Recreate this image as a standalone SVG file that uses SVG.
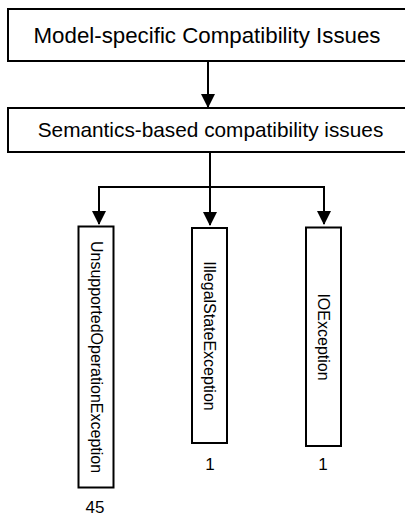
<svg xmlns="http://www.w3.org/2000/svg" width="405" height="521" viewBox="0 0 405 521">
  <style>
    .box { fill: #ffffff; stroke: #000000; stroke-width: 2; }
    .conn { fill: none; stroke: #000000; stroke-width: 2; }
    text { font-family: "Liberation Sans", Arial, Helvetica, sans-serif; fill: #000000; }
    .vt { font-size: 16px; text-anchor: middle; dominant-baseline: central; }
    .num { font-size: 17px; text-anchor: middle; }
  </style>
  <defs>
    <marker id="arrow" markerUnits="userSpaceOnUse" markerWidth="14" markerHeight="16" refX="13" refY="7" orient="auto">
      <path d="M0,0 L14,7 L0,14 Z" fill="#000000"/>
    </marker>
  </defs>
  <rect width="405" height="521" fill="#ffffff"/>

  <g id="connectors">
    <line class="conn" x1="208" y1="61" x2="208" y2="107" marker-end="url(#arrow)"/>
    <polyline class="conn" points="210,152 210,187"/>
    <polyline class="conn" points="99,187 324,187"/>
    <line class="conn" x1="99" y1="186" x2="99" y2="224" marker-end="url(#arrow)"/>
    <line class="conn" x1="210" y1="186" x2="210" y2="225" marker-end="url(#arrow)"/>
    <line class="conn" x1="324" y1="186" x2="324" y2="224" marker-end="url(#arrow)"/>
  </g>

  <g id="model-specific">
    <rect class="box" x="8" y="9" width="400" height="52"/>
    <text x="207" y="43" font-size="22.3" text-anchor="middle">Model-specific Compatibility Issues</text>
  </g>

  <g id="semantics-based">
    <rect class="box" x="8" y="108" width="400" height="44"/>
    <text x="210.5" y="136.5" font-size="20.8" text-anchor="middle">Semantics-based compatibility issues</text>
  </g>

  <g id="unsupported">
    <rect class="box" x="78.5" y="226.5" width="35" height="261"/>
    <text class="vt" transform="translate(96,357) rotate(90)">UnsupportedOperationException</text>
    <text class="num" x="95" y="513">45</text>
  </g>

  <g id="illegalstate">
    <rect class="box" x="192" y="228" width="35" height="215"/>
    <text class="vt" transform="translate(209.5,336) rotate(90)">IllegalStateException</text>
    <text class="num" x="210" y="470">1</text>
  </g>

  <g id="ioexception">
    <rect class="box" x="306" y="227.5" width="35" height="218.5"/>
    <text class="vt" transform="translate(323.5,337) rotate(90)">IOException</text>
    <text class="num" x="323" y="470">1</text>
  </g>
</svg>
